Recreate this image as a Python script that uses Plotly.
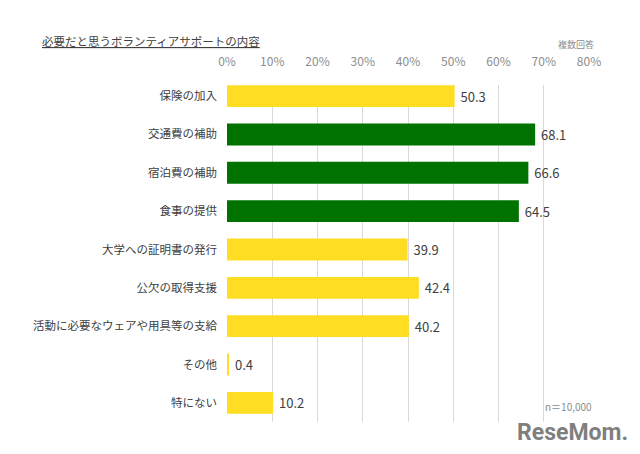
import plotly.graph_objects as go

categories = ["保険の加入", "交通費の補助", "宿泊費の補助", "食事の提供", "大学への証明書の発行",
              "公欠の取得支援", "活動に必要なウェアや用具等の支給", "その他", "特にない"]
values = [50.3, 68.1, 66.6, 64.5, 39.9, 42.4, 40.2, 0.4, 10.2]
highlight = [False, True, True, True, False, False, False, False, False]
tick_vals = [0, 10, 20, 30, 40, 50, 60, 70, 80]
tick_text = ["0%", "10%", "20%", "30%", "40%", "50%", "60%", "70%", "80%"]

YELLOW = "#FFDD22"
GREEN = "#007200"
colors = [GREEN if h else YELLOW for h in highlight]

W, H = 640, 454
L, R, T, B = 227, 589, 85, 422
fig = go.Figure(go.Bar(
    x=values, y=categories, orientation="h",
    marker=dict(color=colors, line=dict(width=0)),
    width=0.57,
    text=[f" {v:.1f}" for v in values], textposition="outside",
    textfont=dict(size=13, color="#404040", family="Noto Sans CJK JP"),
    cliponaxis=False,
))

ann = [
    ("<u>必要だと思うボランティアサポートの内容</u>", 40, 41, "left", 11.5, "#404040", "Noto Sans CJK JP"),
    ("複数回答", 596, 45, "right", 9, "#8C8C8C", "Noto Sans CJK JP"),
    ("n＝10,000", 594, 406, "right", 10, "#8C8C8C", "Noto Sans CJK JP"),
    ("<b>ReseMom.</b>", 630, 433, "right", 23, "#7F7F7F", "Roboto"),
]
annotations = [
    dict(text=t, x=(px - L) / (R - L), y=(B - py) / (B - T), xref="paper", yref="paper",
         showarrow=False, xanchor=xa, yanchor="middle", font=dict(size=s, color=c, family=f))
    for t, px, py, xa, s, c, f in ann
]

fig.update_layout(
    width=W, height=H,
    margin=dict(l=L, r=W - R, t=T, b=H - B, autoexpand=False),
    paper_bgcolor="white", plot_bgcolor="white",
    showlegend=False,
    font=dict(family="Noto Sans CJK JP", color="#404040"),
    xaxis=dict(range=[0, 80], side="top", tickvals=tick_vals, ticktext=tick_text,
               showgrid=True, gridcolor="#D9D9D9", gridwidth=1, zeroline=False,
               showline=False, ticks="", ticklabelstandoff=16,
               tickfont=dict(size=12, color="#8C8C8C", family="Noto Sans CJK JP")),
    yaxis=dict(categoryorder="array", categoryarray=categories,
               range=[8.5, -0.29], showgrid=False, zeroline=False, showline=False,
               ticks="", ticklabelstandoff=9,
               tickfont=dict(size=11.5, color="#404040", family="Noto Sans CJK JP")),
    annotations=annotations,
)
fig.write_html("out.html", config={"displayModeBar": False},
               post_script="document.body.style.margin='0';")
